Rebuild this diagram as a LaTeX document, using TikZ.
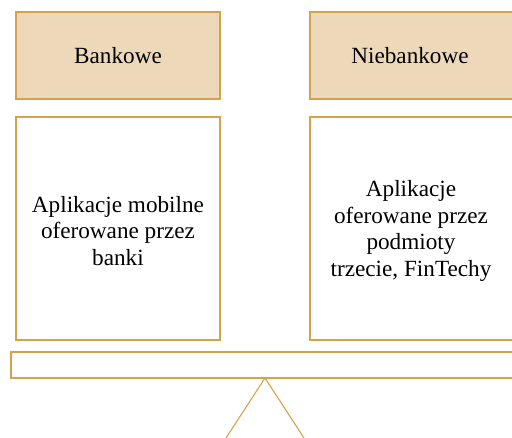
\documentclass[tikz,border=0pt]{standalone}
\usepackage{fontspec}
\setmainfont{Liberation Serif}
\definecolor{gold}{HTML}{D4A24C}
\definecolor{sand}{HTML}{EDD9BA}
\begin{document}
\begin{tikzpicture}[x=1pt,y=-1pt,
  headbox/.style={draw=gold,fill=sand,line width=1.2pt,inner sep=0pt},
  bodybox/.style={draw=gold,fill=white,line width=1.2pt,inner sep=0pt},
  txt/.style={font=\fontsize{23.2}{26.5}\selectfont,align=center},
  line/.style={draw=gold,line width=1.1pt}]
\useasboundingbox (0,0) rectangle (512,438);
\clip (0,0) rectangle (512,438);
\draw[headbox] (16,12) rectangle (220,99);
\node[txt] (bank) at (118,55.5) {Bankowe};
\draw[headbox] (310,12) rectangle (514,99);
\node[txt] (niebank) at (410,55.5) {Niebankowe};
\draw[bodybox] (16,117) rectangle (220,340);
\node[txt] (a) at (118,231) {Aplikacje mobilne\\oferowane przez\\banki};
\draw[bodybox] (310,117) rectangle (514,340);
\node[txt] (b) at (411,231) {Aplikacje\\oferowane przez\\podmioty\\trzecie, FinTechy};
\draw[bodybox] (11,352) rectangle (514,378);
\coordinate (apex) at (265,378);
\coordinate (l) at (226,438);
\coordinate (r) at (304,438);
\draw[line] (l) -- (apex) -- (r);
\end{tikzpicture}
\end{document}
